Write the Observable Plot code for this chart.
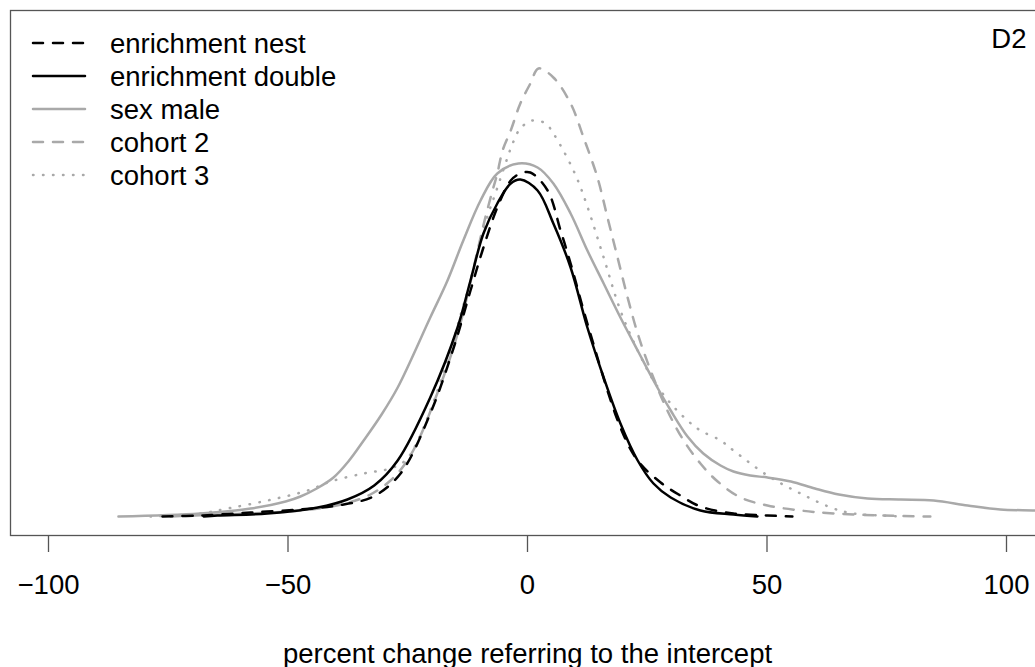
<!DOCTYPE html>
<html><head><meta charset="utf-8">
<script src="https://cdn.jsdelivr.net/npm/d3@7"></script>
<script src="https://cdn.jsdelivr.net/npm/@observablehq/plot@0.6"></script>
<style>
html,body{margin:0;padding:0;background:#fff;overflow:hidden;width:1035px;height:667px}
#chart svg{display:block;max-width:none !important;width:1045px !important;height:667px !important}
</style>
</head><body><div id="chart"></div>
<script>
// ---- data (x: percent change, y: density) ----
const seriesNames = ["enrichment nest", "enrichment double", "sex male", "cohort 2", "cohort 3"];

const enrichmentNest = [
  [-76.2,0.0000],[-68.3,0.0001],[-57.8,0.0004],[-47.4,0.0007],[-39.7,0.0011],[-32.2,0.0020],
  [-26.5,0.0043],[-20.3,0.0103],[-15.4,0.0169],[-11.9,0.0226],[-9.2,0.0269],[-6.3,0.0309],
  [-3.5,0.0336],[-1.5,0.0343],[0.6,0.0344],[4.2,0.0326],[6.9,0.0286],[9.0,0.0253],[12.5,0.0193],
  [19.4,0.0089],[23.0,0.0056],[27.8,0.0034],[31.9,0.0021],[36.1,0.0010],[43.0,0.0003],
  [50.1,0.0001],[55.3,0.0000]
];
const enrichmentDouble = [
  [-67.6,0.0000],[-64.7,0.0001],[-54.3,0.0003],[-43.8,0.0009],[-37.6,0.0017],[-32.0,0.0031],
  [-27.1,0.0056],[-20.3,0.0119],[-14.6,0.0189],[-11.9,0.0236],[-9.2,0.0283],[-6.3,0.0313],
  [-3.5,0.0333],[-1.5,0.0337],[2.1,0.0326],[5.4,0.0293],[9.0,0.0249],[12.5,0.0189],[15.9,0.0139],
  [19.4,0.0093],[23.0,0.0056],[26.3,0.0033],[29.9,0.0019],[36.1,0.0006],[43.0,0.0002],[48.0,0.0000]
];
const sexMale = [
  [-85.4,0.0000],[-68.3,0.0003],[-57.8,0.0008],[-50.5,0.0015],[-47.4,0.0020],[-44.0,0.0028],
  [-40.5,0.0039],[-37.4,0.0055],[-34.2,0.0076],[-30.6,0.0101],[-27.1,0.0129],[-20.3,0.0199],
  [-16.7,0.0236],[-13.4,0.0276],[-9.8,0.0316],[-6.3,0.0343],[-1.9,0.0353],[2.1,0.0349],
  [5.4,0.0333],[9.0,0.0303],[12.5,0.0266],[15.9,0.0233],[19.4,0.0199],[23.0,0.0166],
  [26.3,0.0136],[29.9,0.0106],[33.4,0.0080],[36.7,0.0063],[40.3,0.0051],[43.0,0.0045],
  [46.5,0.0041],[50.1,0.0039],[55.0,0.0035],[60.0,0.0028],[65.0,0.0022],[71.0,0.0018],
  [77.9,0.0017],[84.8,0.0016],[91.9,0.0011],[98.7,0.0007],[106.1,0.0006],[110.0,0.0005]
];
const cohort2 = [
  [-74.5,0.0000],[-64.1,0.0002],[-53.7,0.0004],[-45.3,0.0007],[-38.0,0.0013],[-32.8,0.0022],
  [-28.6,0.0036],[-25.5,0.0053],[-22.8,0.0076],[-19.8,0.0111],[-16.7,0.0151],[-14.4,0.0186],
  [-12.3,0.0226],[-10.9,0.0256],[-9.8,0.0279],[-8.8,0.0299],[-7.3,0.0326],[-6.3,0.0343],
  [-5.2,0.0366],[-3.5,0.0386],[-1.5,0.0413],[0.6,0.0433],[2.3,0.0448],[5.4,0.0439],[9.0,0.0413],
  [11.7,0.0379],[14.6,0.0339],[16.7,0.0299],[18.8,0.0259],[20.9,0.0219],[23.0,0.0183],
  [25.7,0.0146],[29.2,0.0106],[32.6,0.0076],[36.1,0.0053],[39.7,0.0035],[44.5,0.0019],
  [50.1,0.0011],[57.0,0.0006],[63.9,0.0003],[74.3,0.0001],[84.1,0.0000]
];
const cohort3 = [
  [-78.7,0.0000],[-68.3,0.0003],[-62.6,0.0008],[-54.3,0.0016],[-45.9,0.0026],[-41.1,0.0035],
  [-34.2,0.0043],[-28.6,0.0048],[-25.5,0.0056],[-23.4,0.0071],[-20.3,0.0106],[-16.7,0.0156],
  [-14.0,0.0201],[-11.9,0.0236],[-9.8,0.0276],[-8.1,0.0304],[-6.7,0.0323],[-4.6,0.0353],
  [-3.1,0.0373],[-1.5,0.0388],[1.0,0.0396],[3.8,0.0393],[5.4,0.0383],[6.9,0.0371],[9.0,0.0352],
  [10.6,0.0335],[12.5,0.0310],[15.9,0.0259],[19.4,0.0206],[23.0,0.0166],[26.3,0.0136],
  [29.9,0.0113],[33.4,0.0096],[36.1,0.0086],[40.3,0.0076],[43.0,0.0066],[50.1,0.0041],
  [57.0,0.0023],[63.9,0.0008],[68.1,0.0003],[73.7,0.0001],[77.9,0.0000]
];

const xTicks = [-100, -50, 0, 50, 100];
const xLabel = "percent change referring to the intercept";
const panelLabel = "D2";

// ---- styles ----
const GRAY = "#a9a9a9";
const seriesStyle = {
  "enrichment nest":   {stroke: "#000", dash: "10,10"},
  "enrichment double": {stroke: "#000", dash: null},
  "sex male":          {stroke: GRAY, dash: null},
  "cohort 2":          {stroke: GRAY, dash: "10,10"},
  "cohort 3":          {stroke: GRAY, dash: "0.5,9.5"}
};
const seriesData = {
  "enrichment nest": enrichmentNest,
  "enrichment double": enrichmentDouble,
  "sex male": sexMale,
  "cohort 2": cohort2,
  "cohort 3": cohort3
};
const FONT = "'Liberation Sans', Arial, Helvetica, sans-serif";
const FS = 27.5;
const LW = 2.5;

const drawOrder = ["cohort 3", "cohort 2", "sex male", "enrichment double", "enrichment nest"];
const lineMarks = drawOrder.map(name => {
  const rows = seriesData[name].map(([x, y]) => ({series: name, x, y}));
  const s = seriesStyle[name];
  return Plot.line(rows, {
    x: "x", y: "y", stroke: s.stroke, strokeWidth: LW,
    strokeDasharray: s.dash ?? undefined, strokeLinecap: "round",
    curve: "catmull-rom", clip: true
  });
});

const W = 1045, H = 667;
const chart = Plot.plot({
  width: W, height: H,
  marginLeft: 10, marginRight: 5, marginTop: 10, marginBottom: 132,
  style: {font: `${FS}px ${FONT}`, background: "#fff", color: "#000", maxWidth: "none"},
  x: {domain: [-100, 100], range: [48, 1006]},
  y: {domain: [0, 0.0448], range: [516, 68], axis: null},
  marks: [
    ...lineMarks,
    Plot.frame({stroke: "#555", strokeWidth: 1.3}),
    Plot.axisX({ticks: xTicks, tickSize: 17, tickPadding: 22, fontSize: FS, label: null,
      stroke: "#555", strokeWidth: 1.3, fill: "#000"}),
    Plot.text([xLabel], {text: d => d, frameAnchor: "bottom", dy: 127, dx: 2,
      lineAnchor: "bottom", fontSize: FS, fill: "#000"}),
    Plot.text([panelLabel], {text: d => d, frameAnchor: "top-right", dx: -14, dy: 37,
      textAnchor: "end", lineAnchor: "bottom", fontSize: FS, fill: "#000"})
  ]
});
document.getElementById("chart").appendChild(chart);

// ---- legend (top-left, inside the box) ----
const svg = d3.select(chart);
const lg = svg.append("g").attr("class", "legend").attr("text-anchor", "start");
seriesNames.forEach((name, i) => {
  const cy = 43 + i * 33;
  const s = seriesStyle[name];
  lg.append("line")
    .attr("x1", 33).attr("x2", 85).attr("y1", cy).attr("y2", cy)
    .attr("stroke", s.stroke).attr("stroke-width", LW)
    .attr("stroke-linecap", "round")
    .attr("stroke-dasharray", s.dash);
  lg.append("text")
    .attr("x", 110).attr("y", cy + 10)
    .attr("text-anchor", "start")
    .attr("font-family", FONT).attr("font-size", FS)
    .attr("fill", "#000")
    .text(name);
});
</script>
</body></html>
